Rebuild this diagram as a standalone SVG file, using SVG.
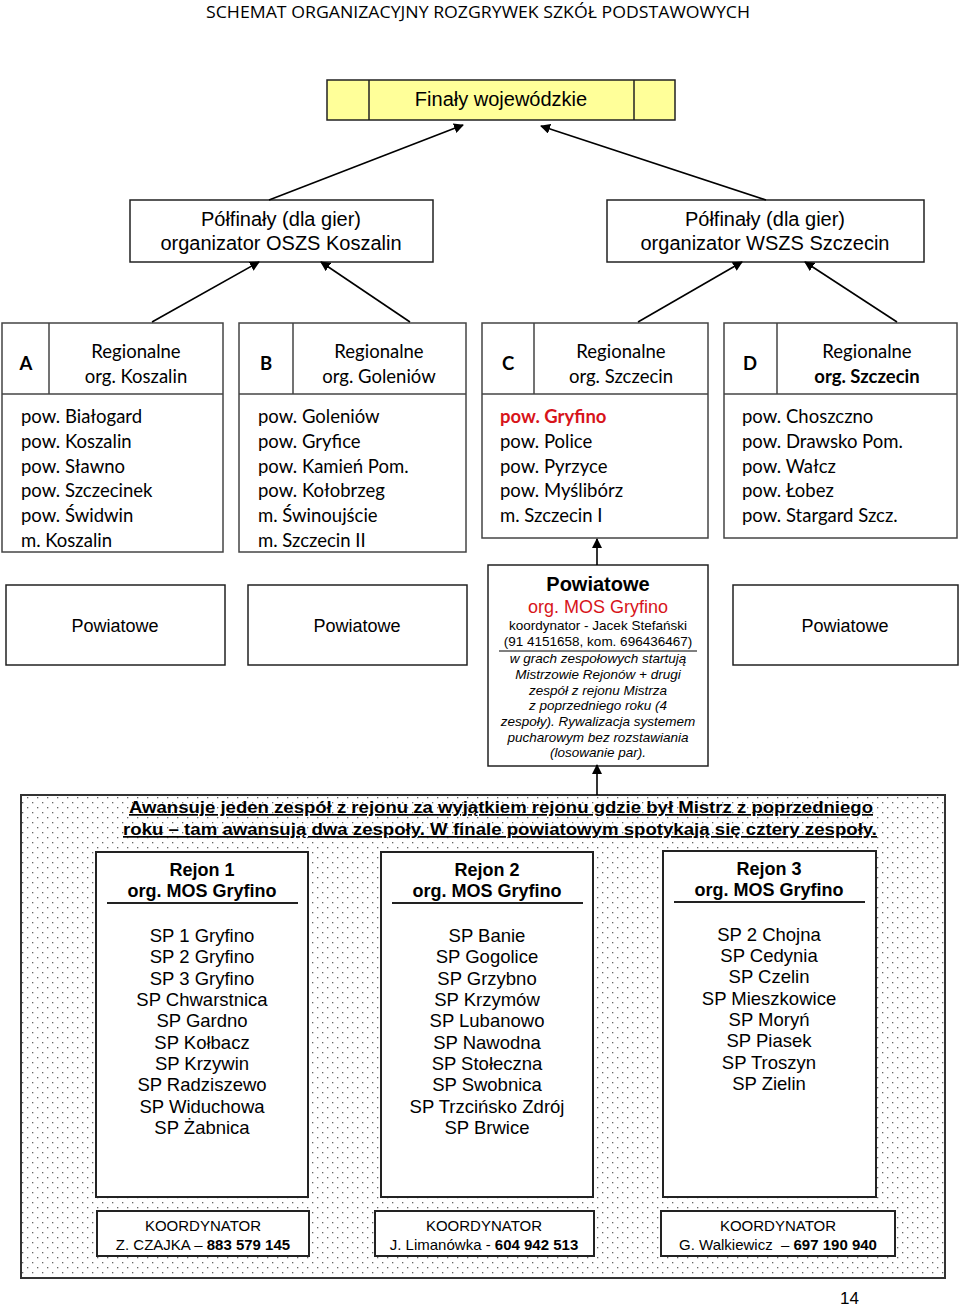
<svg xmlns="http://www.w3.org/2000/svg" width="960" height="1306" viewBox="0 0 960 1306">
<style>
.box{fill:#fff;stroke:#222;stroke-width:1.5}
.reg{fill:#fff;stroke:#444;stroke-width:1.5}
.ar{font-family:"Liberation Sans",Arial,sans-serif;fill:#000}
.cal{font-family:Lato,"Open Sans",sans-serif;fill:#000;font-size:18.5px}
.c{text-anchor:middle}
.b{font-weight:bold}
.red{fill:#d7141a}
.conn{stroke:#000;stroke-width:1.6;fill:none;marker-end:url(#ah)}
</style>
<defs>
<marker id="ah" viewBox="0 0 10 10" refX="9" refY="5" markerWidth="10" markerHeight="10" markerUnits="userSpaceOnUse" orient="auto">
<path d="M0,0 L10,5 L0,10 z" fill="#000"/>
</marker>
<pattern id="dots" width="10" height="10" patternUnits="userSpaceOnUse">
<rect width="10" height="10" fill="#fff"/>
<rect x="2" y="2" width="1.3" height="1.3" fill="#666"/>
<rect x="7" y="7" width="1.3" height="1.3" fill="#666"/>
</pattern>
</defs>
<rect width="960" height="1306" fill="#fff"/>

<text x="478" y="18" font-family="'Open Sans',sans-serif" font-size="17" text-anchor="middle" textLength="544" lengthAdjust="spacingAndGlyphs">SCHEMAT ORGANIZACYJNY ROZGRYWEK SZKÓŁ PODSTAWOWYCH</text>

<g id="finaly">
<rect x="327" y="80" width="348" height="40" fill="#ffff99" stroke="#222" stroke-width="1.5"/>
<line x1="369" y1="80" x2="369" y2="120" stroke="#222" stroke-width="1.5"/>
<line x1="634" y1="80" x2="634" y2="120" stroke="#222" stroke-width="1.5"/>
<text class="ar c" x="501" y="106" font-size="20">Finały wojewódzkie</text>
</g>

<g id="polfinal-koszalin">
<rect class="box" x="130" y="200" width="303" height="62"/>
<text class="ar c" x="281" y="226" font-size="20">Półfinały (dla gier)</text>
<text class="ar c" x="281" y="250" font-size="20">organizator OSZS Koszalin</text>
</g>
<g id="polfinal-szczecin">
<rect class="box" x="607" y="200" width="317" height="62"/>
<text class="ar c" x="765" y="226" font-size="20">Półfinały (dla gier)</text>
<text class="ar c" x="765" y="250" font-size="20">organizator WSZS Szczecin</text>
</g>

<g id="region-a">
<rect class="reg" x="2" y="323" width="221" height="229"/>
<line x1="2" y1="394" x2="223" y2="394" stroke="#444" stroke-width="1.5"/>
<line x1="49" y1="323" x2="49" y2="394" stroke="#444" stroke-width="1.5"/>
<text class="cal b c" x="26" y="370">A</text>
<text class="cal c" x="136" y="358">Regionalne</text>
<text class="cal c" x="136" y="383">org. Koszalin</text>
<text class="cal" x="21" y="423">pow. Białogard</text>
<text class="cal" x="21" y="448">pow. Koszalin</text>
<text class="cal" x="21" y="473">pow. Sławno</text>
<text class="cal" x="21" y="497">pow. Szczecinek</text>
<text class="cal" x="21" y="522">pow. Świdwin</text>
<text class="cal" x="21" y="547">m. Koszalin</text>
</g>
<g id="region-b">
<rect class="reg" x="239" y="323" width="227" height="229"/>
<line x1="239" y1="394" x2="466" y2="394" stroke="#444" stroke-width="1.5"/>
<line x1="293" y1="323" x2="293" y2="394" stroke="#444" stroke-width="1.5"/>
<text class="cal b c" x="266" y="370">B</text>
<text class="cal c" x="379" y="358">Regionalne</text>
<text class="cal c" x="379" y="383">org. Goleniów</text>
<text class="cal" x="258" y="423">pow. Goleniów</text>
<text class="cal" x="258" y="448">pow. Gryfice</text>
<text class="cal" x="258" y="473">pow. Kamień Pom.</text>
<text class="cal" x="258" y="497">pow. Kołobrzeg</text>
<text class="cal" x="258" y="522">m. Świnoujście</text>
<text class="cal" x="258" y="547">m. Szczecin II</text>
</g>
<g id="region-c">
<rect class="reg" x="482" y="323" width="226" height="215"/>
<line x1="482" y1="394" x2="708" y2="394" stroke="#444" stroke-width="1.5"/>
<line x1="534" y1="323" x2="534" y2="394" stroke="#444" stroke-width="1.5"/>
<text class="cal b c" x="508" y="370">C</text>
<text class="cal c" x="621" y="358">Regionalne</text>
<text class="cal c" x="621" y="383">org. Szczecin</text>
<text class="cal b red" x="500" y="423">pow. Gryfino</text>
<text class="cal" x="500" y="448">pow. Police</text>
<text class="cal" x="500" y="473">pow. Pyrzyce</text>
<text class="cal" x="500" y="497">pow. Myślibórz</text>
<text class="cal" x="500" y="522">m. Szczecin I</text>
</g>
<g id="region-d">
<rect class="reg" x="724" y="323" width="233" height="215"/>
<line x1="724" y1="394" x2="957" y2="394" stroke="#444" stroke-width="1.5"/>
<line x1="777" y1="323" x2="777" y2="394" stroke="#444" stroke-width="1.5"/>
<text class="cal b c" x="750" y="370">D</text>
<text class="cal c" x="867" y="358">Regionalne</text>
<text class="cal b c" x="867" y="383">org. Szczecin</text>
<text class="cal" x="742" y="423">pow. Choszczno</text>
<text class="cal" x="742" y="448">pow. Drawsko Pom.</text>
<text class="cal" x="742" y="473">pow. Wałcz</text>
<text class="cal" x="742" y="497">pow. Łobez</text>
<text class="cal" x="742" y="522">pow. Stargard Szcz.</text>
</g>

<g id="powiatowe-a">
<rect class="box" x="6" y="585" width="219" height="80"/>
<text class="ar c" x="115" y="632" font-size="18">Powiatowe</text>
</g>
<g id="powiatowe-b">
<rect class="box" x="248" y="585" width="219" height="80"/>
<text class="ar c" x="357" y="632" font-size="18">Powiatowe</text>
</g>
<g id="powiatowe-d">
<rect class="box" x="733" y="585" width="225" height="80"/>
<text class="ar c" x="845" y="632" font-size="18">Powiatowe</text>
</g>
<g id="powiatowe-c">
<rect class="box" x="488" y="565" width="220" height="201"/>
<text class="ar c b" x="598" y="591" font-size="20">Powiatowe</text>
<text class="ar c red" x="598" y="613" font-size="18">org. MOS Gryfino</text>
<text class="ar c" x="598" y="630" font-size="13.5">koordynator - Jacek Stefański</text>
<text class="ar c" x="598" y="646" font-size="13.5">(91 4151658, kom. 696436467)</text>
<line x1="499" y1="651" x2="697" y2="651" stroke="#000" stroke-width="1.2"/>
<g class="ar" font-size="13.5" font-style="italic" text-anchor="middle">
<text x="598" y="663">w grach zespołowych startują</text>
<text x="598" y="679">Mistrzowie Rejonów + drugi</text>
<text x="598" y="695">zespół z rejonu Mistrza</text>
<text x="598" y="710">z poprzedniego roku (4</text>
<text x="598" y="726">zespoły). Rywalizacja systemem</text>
<text x="598" y="742">pucharowym bez rozstawiania</text>
<text x="598" y="757">(losowanie par).</text>
</g>
</g>

<g id="rejony-area">
<rect x="21" y="795" width="924" height="483" fill="url(#dots)" stroke="#333" stroke-width="2"/>
<text class="ar b c" x="501" y="813" font-size="17" text-decoration="underline" textLength="744" lengthAdjust="spacingAndGlyphs">Awansuje jeden zespół z rejonu za wyjątkiem rejonu gdzie był Mistrz z poprzedniego</text>
<text class="ar b c" x="500" y="835" font-size="17" text-decoration="underline" textLength="754" lengthAdjust="spacingAndGlyphs">roku – tam awansują dwa zespoły. W finale powiatowym spotykają się cztery zespoły.</text>
</g>

<g id="rejon-1">
<rect x="96" y="852" width="212" height="345" fill="#fff" stroke="#222" stroke-width="2"/>
<text class="ar b c" x="202" y="876" font-size="18">Rejon 1</text>
<text class="ar b c" x="202" y="897" font-size="18">org. MOS Gryfino</text>
<line x1="107" y1="903" x2="298" y2="903" stroke="#222" stroke-width="2"/>
<g class="ar" font-size="18.5" text-anchor="middle">
<text x="202" y="942">SP 1 Gryfino</text>
<text x="202" y="963">SP 2 Gryfino</text>
<text x="202" y="985">SP 3 Gryfino</text>
<text x="202" y="1006">SP Chwarstnica</text>
<text x="202" y="1027">SP Gardno</text>
<text x="202" y="1049">SP Kołbacz</text>
<text x="202" y="1070">SP Krzywin</text>
<text x="202" y="1091">SP Radziszewo</text>
<text x="202" y="1113">SP Widuchowa</text>
<text x="202" y="1134">SP Żabnica</text>
</g>
</g>
<g id="rejon-2">
<rect x="381" y="852" width="212" height="345" fill="#fff" stroke="#222" stroke-width="2"/>
<text class="ar b c" x="487" y="876" font-size="18">Rejon 2</text>
<text class="ar b c" x="487" y="897" font-size="18">org. MOS Gryfino</text>
<line x1="392" y1="903" x2="583" y2="903" stroke="#222" stroke-width="2"/>
<g class="ar" font-size="18.5" text-anchor="middle">
<text x="487" y="942">SP Banie</text>
<text x="487" y="963">SP Gogolice</text>
<text x="487" y="985">SP Grzybno</text>
<text x="487" y="1006">SP Krzymów</text>
<text x="487" y="1027">SP Lubanowo</text>
<text x="487" y="1049">SP Nawodna</text>
<text x="487" y="1070">SP Stołeczna</text>
<text x="487" y="1091">SP Swobnica</text>
<text x="487" y="1113">SP Trzcińsko Zdrój</text>
<text x="487" y="1134">SP Brwice</text>
</g>
</g>
<g id="rejon-3">
<rect x="663" y="851" width="213" height="346" fill="#fff" stroke="#222" stroke-width="2"/>
<text class="ar b c" x="769" y="875" font-size="18">Rejon 3</text>
<text class="ar b c" x="769" y="896" font-size="18">org. MOS Gryfino</text>
<line x1="674" y1="902" x2="865" y2="902" stroke="#222" stroke-width="2"/>
<g class="ar" font-size="18.5" text-anchor="middle">
<text x="769" y="941">SP 2 Chojna</text>
<text x="769" y="962">SP Cedynia</text>
<text x="769" y="983">SP Czelin</text>
<text x="769" y="1005">SP Mieszkowice</text>
<text x="769" y="1026">SP Moryń</text>
<text x="769" y="1047">SP Piasek</text>
<text x="769" y="1069">SP Troszyn</text>
<text x="769" y="1090">SP Zielin</text>
</g>
</g>

<g id="koordynator-1">
<rect x="97" y="1211" width="212" height="45" fill="#fff" stroke="#222" stroke-width="2"/>
<text class="ar c" x="203" y="1231" font-size="15">KOORDYNATOR</text>
<text class="ar c" x="203" y="1250" font-size="15">Z. CZAJKA – <tspan font-weight="bold">883 579 145</tspan></text>
</g>
<g id="koordynator-2">
<rect x="375" y="1211" width="219" height="45" fill="#fff" stroke="#222" stroke-width="2"/>
<text class="ar c" x="484" y="1231" font-size="15">KOORDYNATOR</text>
<text class="ar c" x="484" y="1250" font-size="15">J. Limanówka - <tspan font-weight="bold">604 942 513</tspan></text>
</g>
<g id="koordynator-3">
<rect x="661" y="1211" width="234" height="45" fill="#fff" stroke="#222" stroke-width="2"/>
<text class="ar c" x="778" y="1231" font-size="15">KOORDYNATOR</text>
<text class="ar c" x="778" y="1250" font-size="15" xml:space="preserve">G. Walkiewicz  – <tspan font-weight="bold">697 190 940</tspan></text>
</g>

<g id="connectors">
<line class="conn" x1="269" y1="200" x2="463" y2="125"/>
<line class="conn" x1="766" y1="200" x2="541" y2="126"/>
<line class="conn" x1="152" y1="322" x2="259" y2="262"/>
<line class="conn" x1="410" y1="322" x2="321" y2="262"/>
<line class="conn" x1="638" y1="322" x2="742" y2="262"/>
<line class="conn" x1="897" y1="322" x2="805" y2="262"/>
<line class="conn" x1="597" y1="565" x2="597" y2="539"/>
<line class="conn" x1="597" y1="795" x2="597" y2="765"/>
</g>

<text class="ar" x="840" y="1304" font-size="17">14</text>
</svg>
